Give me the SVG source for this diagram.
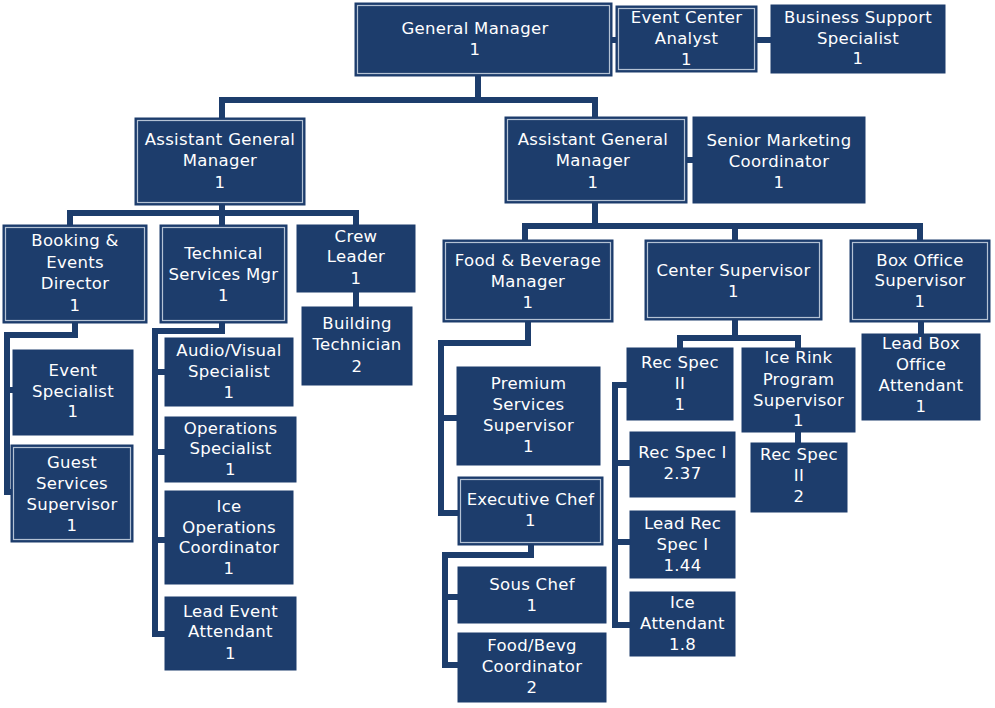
<svg xmlns="http://www.w3.org/2000/svg" width="995" height="708" viewBox="0 0 995 708">
<style>
.bx{fill:#1d3d6c;stroke:#1d3d6c;stroke-width:1}
.in{fill:none;stroke:#b4c2d4;stroke-width:1.2}
.t{font-family:"DejaVu Sans","Liberation Sans",sans-serif;font-size:16.5px;letter-spacing:0.3px;fill:#ffffff;text-anchor:middle}
.c{fill:none;stroke:#1d3d6c;stroke-width:6;stroke-linejoin:miter;stroke-linecap:butt}
</style>
<rect width="995" height="708" fill="#ffffff"/>
<g id="connectors">
<path class="c" d="M609,40 H619 M755,40 H773"/>
<path class="c" d="M478,76 V100 M222,118 V100 H595 V117"/>
<path class="c" d="M685,160 H695"/>
<path class="c" d="M222,205 V213 M70,225 V213 H356 V225 M222,213 V225"/>
<path class="c" d="M356,292 V307"/>
<path class="c" d="M75,323 V335 H7 V492 H13 M7,390 H15"/>
<path class="c" d="M222,323 V331 H155 V634 H167 M155,372 H167 M155,452 H167 M155,540 H167"/>
<path class="c" d="M595,203 V226 M525,240 V226 H920 V240 M735,226 V240"/>
<path class="c" d="M735,320 V338 M680,348 V338 H798 V348"/>
<path class="c" d="M629,385 H615 V625 H632 M615,463 H632 M615,542 H632"/>
<path class="c" d="M798,432 V443"/>
<path class="c" d="M921,322 V334"/>
<path class="c" d="M528,322 V343 H441 V513 H460 M441,418 H459"/>
<path class="c" d="M531,545 V555 H445 V665 H460 M445,597 H460"/>
</g>
<g id="gm"><rect class="bx" x="355" y="3" width="257" height="73"/><rect class="in" x="357.5" y="5.5" width="252" height="68"/><text class="t"><tspan x="475" y="34">General Manager</tspan><tspan x="475" y="55">1</tspan></text></g>
<g id="eca"><rect class="bx" x="616" y="6" width="141" height="66"/><rect class="in" x="618.5" y="8.5" width="136" height="61"/><text class="t"><tspan x="686.5" y="23">Event Center</tspan><tspan x="686.5" y="44">Analyst</tspan><tspan x="686.5" y="65">1</tspan></text></g>
<g id="bss"><rect class="bx" x="771" y="5" width="174" height="68"/><text class="t"><tspan x="858" y="23">Business Support</tspan><tspan x="858" y="44">Specialist</tspan><tspan x="858" y="64">1</tspan></text></g>
<g id="agm1"><rect class="bx" x="135" y="118" width="170" height="87"/><rect class="in" x="137.5" y="120.5" width="165" height="82"/><text class="t"><tspan x="220" y="145">Assistant General</tspan><tspan x="220" y="166">Manager</tspan><tspan x="220" y="188">1</tspan></text></g>
<g id="agm2"><rect class="bx" x="505" y="117" width="182" height="86"/><rect class="in" x="507.5" y="119.5" width="177" height="81"/><text class="t"><tspan x="593" y="145">Assistant General</tspan><tspan x="593" y="166">Manager</tspan><tspan x="593" y="188">1</tspan></text></g>
<g id="smc"><rect class="bx" x="693" y="117" width="172" height="86"/><text class="t"><tspan x="779" y="146">Senior Marketing</tspan><tspan x="779" y="167">Coordinator</tspan><tspan x="779" y="188">1</tspan></text></g>
<g id="bed"><rect class="bx" x="3" y="225" width="144" height="98"/><rect class="in" x="5.5" y="227.5" width="139" height="93"/><text class="t"><tspan x="75" y="246">Booking &amp;</tspan><tspan x="75" y="268">Events</tspan><tspan x="75" y="289">Director</tspan><tspan x="75" y="311">1</tspan></text></g>
<g id="tsm"><rect class="bx" x="160" y="225" width="127" height="98"/><rect class="in" x="162.5" y="227.5" width="122" height="93"/><text class="t"><tspan x="223.5" y="259">Technical</tspan><tspan x="223.5" y="280">Services Mgr</tspan><tspan x="223.5" y="301">1</tspan></text></g>
<g id="crew"><rect class="bx" x="297" y="225" width="118" height="67"/><text class="t"><tspan x="356" y="242">Crew</tspan><tspan x="356" y="262">Leader</tspan><tspan x="356" y="284">1</tspan></text></g>
<g id="bt"><rect class="bx" x="302" y="307" width="110" height="78"/><text class="t"><tspan x="357" y="329">Building</tspan><tspan x="357" y="350">Technician</tspan><tspan x="357" y="372">2</tspan></text></g>
<g id="es"><rect class="bx" x="13" y="350" width="120" height="85"/><text class="t"><tspan x="73" y="376">Event</tspan><tspan x="73" y="397">Specialist</tspan><tspan x="73" y="417">1</tspan></text></g>
<g id="gss"><rect class="bx" x="11" y="445" width="122" height="97"/><rect class="in" x="13.5" y="447.5" width="117" height="92"/><text class="t"><tspan x="72" y="468">Guest</tspan><tspan x="72" y="489">Services</tspan><tspan x="72" y="510">Supervisor</tspan><tspan x="72" y="531">1</tspan></text></g>
<g id="av"><rect class="bx" x="165" y="338" width="128" height="68"/><text class="t"><tspan x="229" y="356">Audio/Visual</tspan><tspan x="229" y="377">Specialist</tspan><tspan x="229" y="398">1</tspan></text></g>
<g id="ops"><rect class="bx" x="165" y="417" width="131" height="65"/><text class="t"><tspan x="230.5" y="434">Operations</tspan><tspan x="230.5" y="454">Specialist</tspan><tspan x="230.5" y="475">1</tspan></text></g>
<g id="ice"><rect class="bx" x="165" y="491" width="128" height="93"/><text class="t"><tspan x="229" y="512">Ice</tspan><tspan x="229" y="533">Operations</tspan><tspan x="229" y="553">Coordinator</tspan><tspan x="229" y="574">1</tspan></text></g>
<g id="lea"><rect class="bx" x="165" y="597" width="131" height="73"/><text class="t"><tspan x="230.5" y="617">Lead Event</tspan><tspan x="230.5" y="637">Attendant</tspan><tspan x="230.5" y="659">1</tspan></text></g>
<g id="fb"><rect class="bx" x="443" y="240" width="170" height="82"/><rect class="in" x="445.5" y="242.5" width="165" height="77"/><text class="t"><tspan x="528" y="266">Food &amp; Beverage</tspan><tspan x="528" y="287">Manager</tspan><tspan x="528" y="308">1</tspan></text></g>
<g id="cs"><rect class="bx" x="645" y="240" width="177" height="80"/><rect class="in" x="647.5" y="242.5" width="172" height="75"/><text class="t"><tspan x="733.5" y="276">Center Supervisor</tspan><tspan x="733.5" y="297">1</tspan></text></g>
<g id="bos"><rect class="bx" x="850" y="240" width="140" height="82"/><rect class="in" x="852.5" y="242.5" width="135" height="77"/><text class="t"><tspan x="920" y="266">Box Office</tspan><tspan x="920" y="286">Supervisor</tspan><tspan x="920" y="307">1</tspan></text></g>
<g id="pss"><rect class="bx" x="457" y="367" width="143" height="98"/><text class="t"><tspan x="528.5" y="389">Premium</tspan><tspan x="528.5" y="410">Services</tspan><tspan x="528.5" y="431">Supervisor</tspan><tspan x="528.5" y="452">1</tspan></text></g>
<g id="ec"><rect class="bx" x="458" y="477" width="145" height="68"/><rect class="in" x="460.5" y="479.5" width="140" height="63"/><text class="t"><tspan x="530.5" y="505">Executive Chef</tspan><tspan x="530.5" y="526">1</tspan></text></g>
<g id="sc"><rect class="bx" x="458" y="567" width="148" height="56"/><text class="t"><tspan x="532" y="590">Sous Chef</tspan><tspan x="532" y="611">1</tspan></text></g>
<g id="fbc"><rect class="bx" x="458" y="633" width="148" height="69"/><text class="t"><tspan x="532" y="651">Food/Bevg</tspan><tspan x="532" y="672">Coordinator</tspan><tspan x="532" y="693">2</tspan></text></g>
<g id="rs2a"><rect class="bx" x="627" y="348" width="106" height="72"/><text class="t"><tspan x="680" y="368">Rec Spec</tspan><tspan x="680" y="389">II</tspan><tspan x="680" y="410">1</tspan></text></g>
<g id="irps"><rect class="bx" x="742" y="348" width="113" height="84"/><text class="t"><tspan x="798.5" y="363">Ice Rink</tspan><tspan x="798.5" y="385">Program</tspan><tspan x="798.5" y="406">Supervisor</tspan><tspan x="798.5" y="426">1</tspan></text></g>
<g id="rs2b"><rect class="bx" x="751" y="443" width="96" height="69"/><text class="t"><tspan x="799" y="460">Rec Spec</tspan><tspan x="799" y="481">II</tspan><tspan x="799" y="502">2</tspan></text></g>
<g id="rs1"><rect class="bx" x="630" y="432" width="105" height="65"/><text class="t"><tspan x="682.5" y="458">Rec Spec I</tspan><tspan x="682.5" y="479">2.37</tspan></text></g>
<g id="lrs"><rect class="bx" x="630" y="511" width="105" height="67"/><text class="t"><tspan x="682.5" y="529">Lead Rec</tspan><tspan x="682.5" y="550">Spec I</tspan><tspan x="682.5" y="571">1.44</tspan></text></g>
<g id="ia"><rect class="bx" x="630" y="592" width="105" height="64"/><text class="t"><tspan x="682.5" y="608">Ice</tspan><tspan x="682.5" y="629">Attendant</tspan><tspan x="682.5" y="650">1.8</tspan></text></g>
<g id="lboa"><rect class="bx" x="862" y="334" width="118" height="86"/><text class="t"><tspan x="921" y="349">Lead Box</tspan><tspan x="921" y="370">Office</tspan><tspan x="921" y="391">Attendant</tspan><tspan x="921" y="412">1</tspan></text></g>
</svg>
